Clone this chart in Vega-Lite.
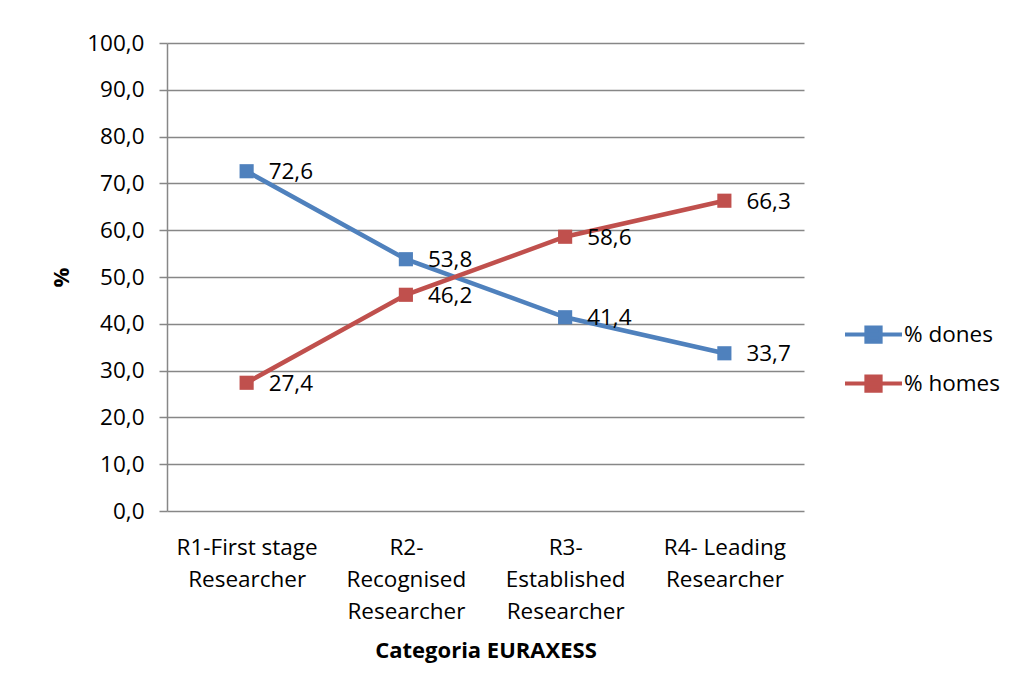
{
  "$schema": "https://vega.github.io/schema/vega-lite/v6.json",
  "autosize": "none",
  "width": 637,
  "height": 468,
  "padding": {"left": 167, "top": 43, "right": 208, "bottom": 182},
  "background": "white",
  "config": {
    "font": "Open Sans",
    "locale": {"number": {"decimal": ",", "thousands": ".", "grouping": [3], "currency": ["", " €"]}},
    "view": {"stroke": null}
  },
  "data": {
    "values": [
      {"cat": "R1-First stage Researcher", "serie": "% dones", "val": 72.6},
      {"cat": "R2- Recognised Researcher", "serie": "% dones", "val": 53.8},
      {"cat": "R3- Established Researcher", "serie": "% dones", "val": 41.4},
      {"cat": "R4- Leading Researcher", "serie": "% dones", "val": 33.7},
      {"cat": "R1-First stage Researcher", "serie": "% homes", "val": 27.4},
      {"cat": "R2- Recognised Researcher", "serie": "% homes", "val": 46.2},
      {"cat": "R3- Established Researcher", "serie": "% homes", "val": 58.6},
      {"cat": "R4- Leading Researcher", "serie": "% homes", "val": 66.3}
    ]
  },
  "encoding": {
    "x": {
      "field": "cat", "type": "nominal", "sort": null,
      "scale": {"type": "point", "padding": 0.5},
      "axis": {
        "title": "Categoria EURAXESS",
        "titleFont": "Open Sans", "titleFontSize": 22, "titleFontWeight": "bold", "titleColor": "black",
        "titlePadding": 18,
        "labelAngle": 0, "labelFontSize": 22.5, "labelColor": "black", "labelLineHeight": 32,
        "labelPadding": 25, "ticks": false, "domain": false, "labelBaseline": "top",
        "labelExpr": "datum.value == 'R1-First stage Researcher' ? ['R1-First stage', 'Researcher'] : datum.value == 'R2- Recognised Researcher' ? ['R2-', 'Recognised', 'Researcher'] : datum.value == 'R3- Established Researcher' ? ['R3-', 'Established', 'Researcher'] : ['R4- Leading', 'Researcher']"
      }
    },
    "y": {
      "field": "val", "type": "quantitative",
      "scale": {"domain": [0, 100], "nice": false},
      "axis": {
        "title": "%", "titleFontSize": 22, "titleFontWeight": "bold", "titleColor": "black", "titlePadding": 13,
        "values": [0, 10, 20, 30, 40, 50, 60, 70, 80, 90, 100],
        "format": ".1f", "labelFontSize": 22.5, "labelColor": "black", "labelPadding": 15,
        "tickSize": 8, "tickColor": "#878787", "tickWidth": 1.5,
        "domainColor": "#878787", "domainWidth": 1.5,
        "gridColor": "#878787", "gridWidth": 1.5
      }
    },
    "color": {
      "field": "serie", "type": "nominal",
      "scale": {"domain": ["% dones", "% homes"], "range": ["#4F81BD", "#C0504D"]},
      "legend": {
        "title": null, "orient": "none", "legendX": 676, "legendY": 261,
        "labelFontSize": 22.5, "labelColor": "black", "labelOffset": 0,
        "symbolType": "M-1,0L1,0M-0.25,-0.25L0.25,-0.25L0.25,0.25L-0.25,0.25Z",
        "symbolSize": 3249, "symbolStrokeWidth": 4, "rowPadding": 3
      }
    }
  },
  "layer": [
    {"mark": {"type": "line", "strokeWidth": 4.5}},
    {"mark": {"type": "point", "shape": "square", "filled": true, "size": 200, "opacity": 1}},
    {
      "mark": {"type": "text", "align": "left", "baseline": "middle", "dx": 22, "dy": 1, "fontSize": 22.5, "color": "black"},
      "encoding": {"text": {"field": "val", "type": "quantitative", "format": ".1f"}, "color": {"value": "black"}}
    }
  ]
}
